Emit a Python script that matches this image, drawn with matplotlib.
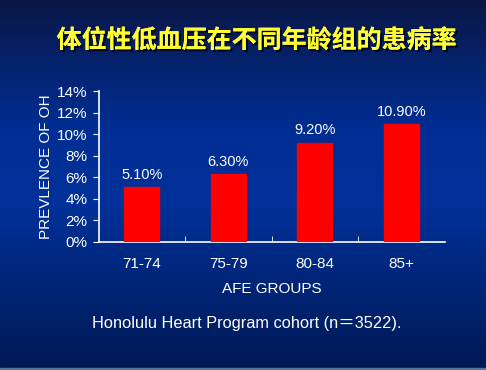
import numpy as np
import matplotlib
matplotlib.use("Agg")
import matplotlib.pyplot as plt
import matplotlib.patheffects as pe
from matplotlib.colors import LinearSegmentedColormap

categories = ["71-74", "75-79", "80-84", "85+"]
values = [5.10, 6.30, 9.20, 10.90]
value_labels = ["5.10%", "6.30%", "9.20%", "10.90%"]
yticks = [0, 2, 4, 6, 8, 10, 12, 14]
ytick_labels = ["0%", "2%", "4%", "6%", "8%", "10%", "12%", "14%"]
title = "体位性低血压在不同年龄组的患病率"
ylabel = "PREVLENCE OF OH"
xlabel = "AFE GROUPS"
footer = "Honolulu Heart Program cohort (n＝3522)."

plt.rcParams['font.family'] = ['Liberation Sans', 'Noto Sans CJK SC', 'DejaVu Sans']

fig = plt.figure(figsize=(4.86, 3.70), dpi=100)

# background gradient
bg = fig.add_axes([0, 0, 1, 1], zorder=-10)
cmap = LinearSegmentedColormap.from_list("bg", [
    (0.0, (0.04, 0.09, 0.28)),
    (0.35, (0.0, 0.18, 0.58)),
    (0.55, (0.0, 0.19, 0.60)),
    (1.0, (0.0, 0.10, 0.33)),
])
grad = np.linspace(0, 1, 256).reshape(-1, 1)
bg.imshow(grad, aspect='auto', cmap=cmap, extent=[0, 1, 0, 1], origin='upper')
bg.axhspan(0, 0.006, color=(0.35, 0.45, 0.6))
bg.set_xlim(0, 1)
bg.set_ylim(0, 1)
bg.axis('off')

ax = fig.add_axes([0.2027, 0.346, 0.712, 0.408])
ax.patch.set_alpha(0)
x = np.arange(len(categories))
ax.bar(x, values, width=0.4, color='#ff0000', edgecolor='#ff0000', zorder=3)
for xi, v, lab in zip(x, values, value_labels):
    ax.text(xi, v + 0.5, lab, ha='center', va='bottom', color='white', fontsize=10.5)

ax.set_xlim(-0.5, len(categories) - 0.5)
ax.set_ylim(0, 14)
ax.set_yticks(yticks)
ax.set_yticklabels(ytick_labels, color='white', fontsize=11)
ax.set_xticks(x)
ax.set_xticklabels(categories, color='white', fontsize=11)
ax.tick_params(axis='x', length=0, pad=11)
ax.set_xticks(np.arange(0.5, len(categories) - 1, 1), minor=True)
ax.tick_params(axis='x', which='minor', direction='in', length=4, color='white')
ax.tick_params(axis='y', direction='out', length=4, color='white', pad=4)
for s in ['top', 'right']:
    ax.spines[s].set_visible(False)
for s in ['left', 'bottom']:
    ax.spines[s].set_color('white')
    ax.spines[s].set_linewidth(1.2)

ax.set_xlabel(xlabel, color='white', fontsize=11, labelpad=8)
ax.set_ylabel(ylabel, color='white', fontsize=11, labelpad=3)

fig.text(0.528, 0.89, title, ha='center', va='center', color='#ffff33',
         fontsize=18, fontweight='bold', family=['Noto Sans CJK SC', 'DejaVu Sans'],
         path_effects=[pe.withSimplePatchShadow(offset=(1.5, -1.5), shadow_rgbFace='black', alpha=0.8), pe.Normal()])
fig.text(0.508, 0.127, footer, ha='center', va='center', color='white', fontsize=11.8)

fig.savefig("out.png", dpi=100)
